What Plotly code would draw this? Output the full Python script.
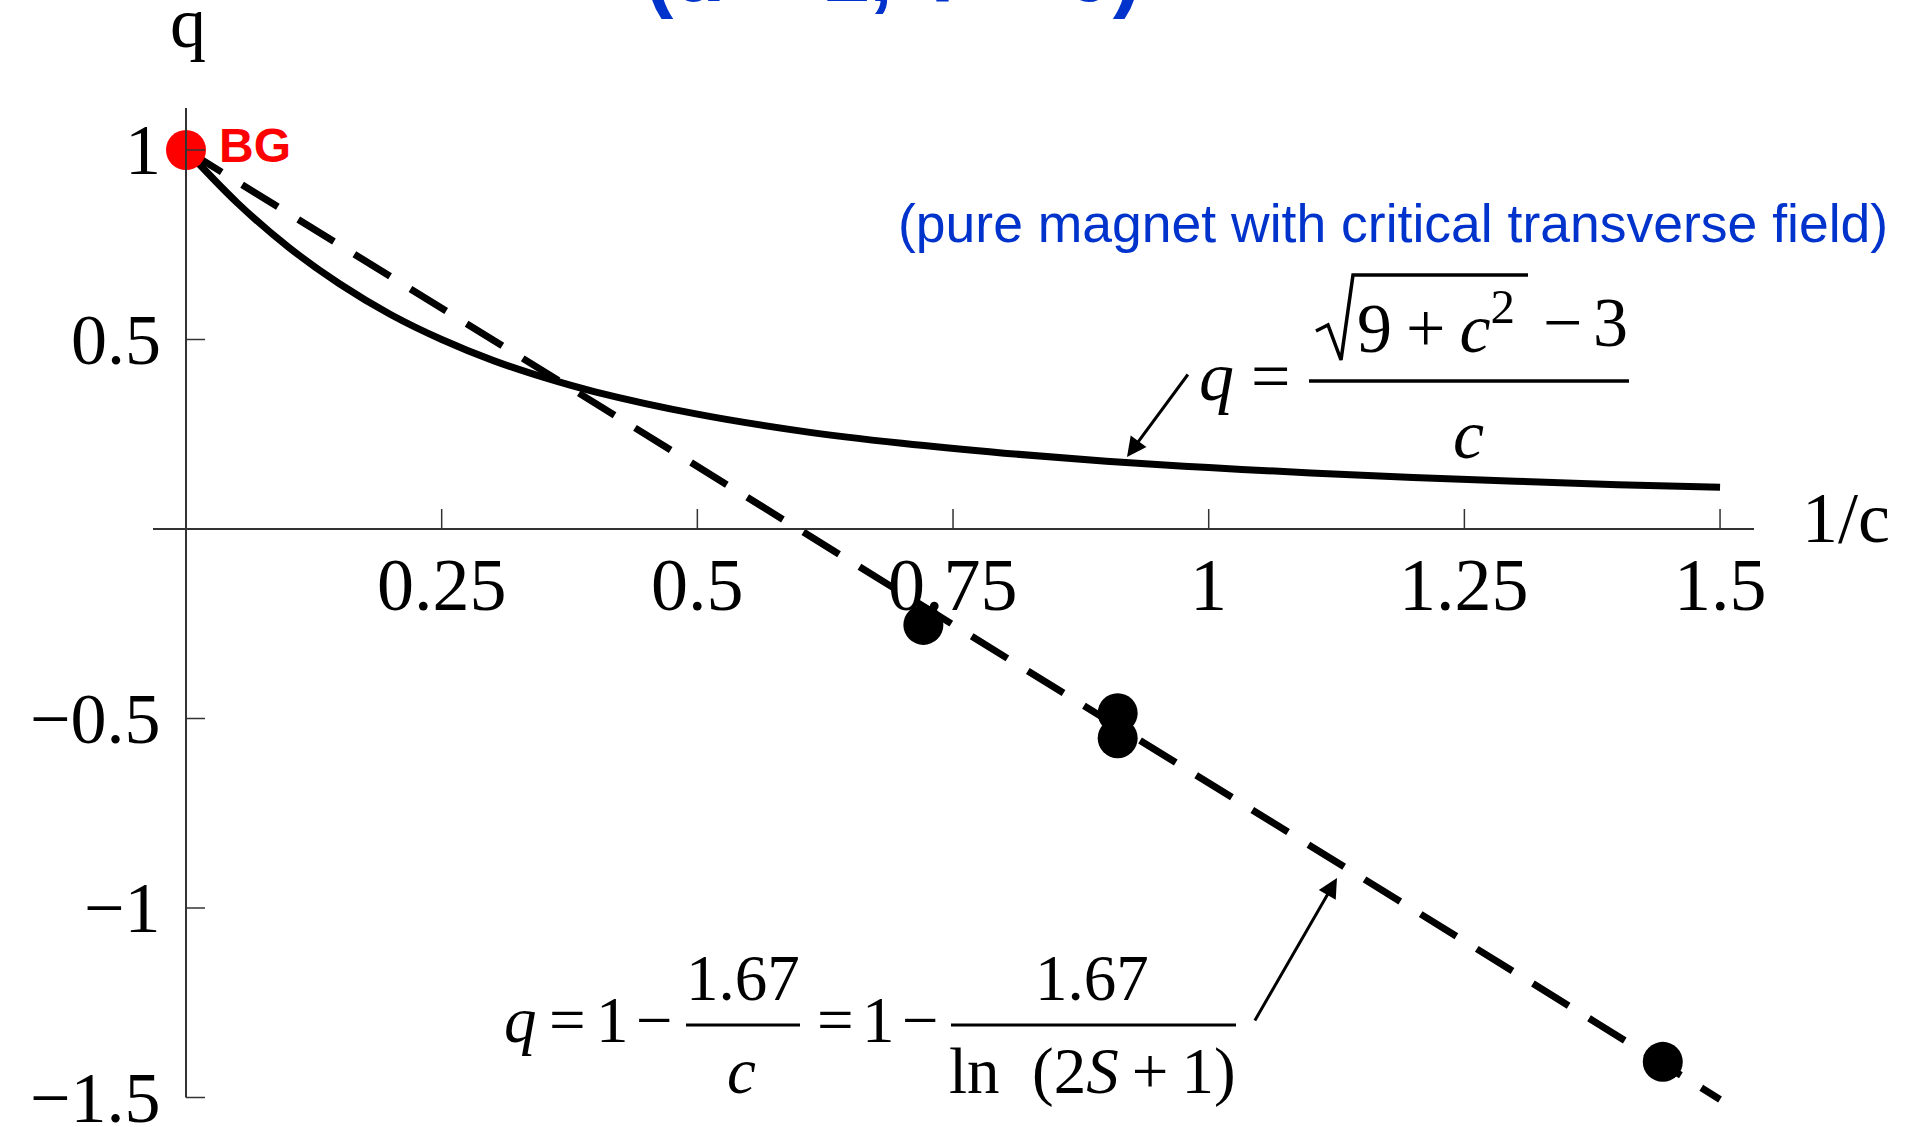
import plotly.graph_objects as go

W, H = 1905, 1127

# ---- data ----
# solid curve  q = (sqrt(9 + c^2) - 3) / c   plotted against 1/c
curve_x = [0, 0.05, 0.1, 0.15, 0.2, 0.25, 0.3, 0.35, 0.4, 0.5, 0.6, 0.7,
           0.8, 0.9, 1.0, 1.1, 1.2, 1.3, 1.4, 1.5]
curve_q = [1.0, 0.861, 0.744, 0.647, 0.566, 0.5, 0.445, 0.4, 0.362, 0.303,
           0.259, 0.226, 0.2, 0.179, 0.162, 0.148, 0.136, 0.126, 0.117, 0.11]

# dashed line  q = 1 - 1.67/c
dash_x = [0, 1.5]
dash_q = [1.0, -1.505]

# black data points
dots_x = [0.721, 0.911, 0.911, 1.444]
dots_q = [-0.253, -0.486, -0.552, -1.406]

# BG point
bg_x = [0]
bg_q = [1]

x_ticks = [0.25, 0.5, 0.75, 1, 1.25, 1.5]
x_tick_text = ["0.25", "0.5", "0.75", "1", "1.25", "1.5"]
y_ticks = [1, 0.5, -0.5, -1, -1.5]
y_tick_text = ["1", "0.5", "\u22120.5", "\u22121", "\u22121.5"]

# ---- pixel mapping of the axes ----
X0, XS = 186, 1022.7   # pixel of x=0, pixels per unit
Y0, YS = 529, 379      # pixel of q=0, pixels per unit

SERIF = "Liberation Serif"
SANS = "Liberation Sans"

annotations = []
shapes = []


def P(xp, yp):
    # pixel -> paper coords
    return xp / W, 1 - yp / H


def label(xp, yp, s, size, family=SERIF, color="black", anchor="center"):
    a, b = P(xp, yp)
    annotations.append(dict(x=a, y=b, xref="paper", yref="paper", text=s, showarrow=False,
                            xanchor=anchor, yanchor="middle",
                            font=dict(family=family, size=size, color=color)))


def hline(x0, x1, yp, w=3):
    a0, b0 = P(x0, yp)
    a1, b1 = P(x1, yp)
    shapes.append(dict(type="line", xref="paper", yref="paper", x0=a0, x1=a1, y0=b0, y1=b1,
                       line=dict(color="black", width=w)))


fig = go.Figure()
fig.add_trace(go.Scatter(x=curve_x, y=curve_q, mode="lines", line_shape="spline",
                         line=dict(color="black", width=7), hoverinfo="skip"))
fig.add_trace(go.Scatter(x=dash_x, y=dash_q, mode="lines",
                         line=dict(color="black", width=7, dash="42px,24px"), hoverinfo="skip"))
fig.add_trace(go.Scatter(x=dots_x, y=dots_q, mode="markers",
                         marker=dict(color="black", size=40)))
fig.add_trace(go.Scatter(x=bg_x, y=bg_q, mode="markers",
                         marker=dict(color="#ff0000", size=40)))

# axis lines
shapes.append(dict(type="line", xref="x", yref="y", x0=(153 - X0) / XS, x1=(1754 - X0) / XS,
                   y0=0, y1=0, line=dict(color="#333333", width=2)))
shapes.append(dict(type="line", xref="x", yref="y", x0=0, x1=0,
                   y0=(Y0 - 108) / YS, y1=-1.5, line=dict(color="#333333", width=2)))
# ticks
for t in x_ticks:
    shapes.append(dict(type="line", xref="x", yref="y", x0=t, x1=t, y0=0, y1=20 / YS,
                       line=dict(color="#333333", width=1.5)))
for t in y_ticks:
    shapes.append(dict(type="line", xref="x", yref="y", x0=0, x1=19 / XS, y0=t, y1=t,
                       line=dict(color="#333333", width=1.5)))

for t, s in zip(x_ticks, x_tick_text):
    annotations.append(dict(x=t, y=(Y0 - 585) / YS, xref="x", yref="y", text=s, showarrow=False,
                            xanchor="center", yanchor="middle",
                            font=dict(family=SERIF, size=74, color="black")))
for t, s in zip(y_ticks, y_tick_text):
    annotations.append(dict(x=(163 - X0) / XS, y=t, xref="x", yref="y", text=s, showarrow=False,
                            xanchor="right", yanchor="middle",
                            font=dict(family=SERIF, size=72, color="black")))

# axis labels
label(188, 23, "q", 72)
label(1846, 518, "1/c", 72)

# title (cut off at the top of the picture)
label(643, -28, "<b>(d = 1, T = 0)</b>", 85, family=SANS, color="#0033cc", anchor="left")

# BG label
label(217, 146, "<b>BG</b>", 48, family=SANS, color="#ff0000", anchor="left")

# blue note
label(1890, 224, "(pure magnet with critical transverse field)", 53.5, family=SANS,
      color="#0033cc", anchor="right")

# formula 1:  q = (sqrt(9 + c^2) - 3) / c
label(1216, 376, "<i>q</i>", 70)
label(1270, 376, "=", 70)
label(1436, 323, "9\u2009+\u2009<i>c</i><sup>2</sup>", 70)
label(1562, 323, "\u2212", 70)
label(1610, 323, "3", 70)
label(1468, 434, "<i>c</i>", 70)
hline(1309, 1629, 381, 3.5)
# radical sign with its bar
pts = [(1316, 331), (1328, 325), (1341, 360), (1353, 275), (1528, 275)]
path = "M " + " L ".join(f"{P(x, y)[0]:.5f},{P(x, y)[1]:.5f}" for x, y in pts)
shapes.append(dict(type="path", xref="paper", yref="paper", path=path,
                   line=dict(color="black", width=3.5)))

# formula 2:  q = 1 - 1.67/c = 1 - 1.67/ln(2S+1)
label(520, 1020, "<i>q</i>", 65)
label(567, 1020, "=", 65)
label(612, 1020, "1", 65)
label(654, 1020, "\u2212", 65)
label(743, 978, "1.67", 65)
label(741, 1071, "<i>c</i>", 65)
hline(686, 800, 1025)
label(835, 1020, "=", 65)
label(878, 1020, "1", 65)
label(920, 1020, "\u2212", 65)
label(1092, 978, "1.67", 65)
label(1092, 1071, "ln\u2002(2<i>S</i>\u2009+\u20091)", 65)
hline(951, 1236, 1025)

# arrows pointing to the curves
for hx, hy, tx, ty in [(1127, 457, 1189, 373), (1337, 878, 1254, 1022)]:
    annotations.append(dict(x=(hx - X0) / XS, y=(Y0 - hy) / YS, ax=(tx - X0) / XS, ay=(Y0 - ty) / YS,
                            xref="x", yref="y", axref="x", ayref="y", text="", showarrow=True,
                            arrowhead=2, arrowsize=1.3, arrowwidth=3, arrowcolor="black", standoff=0))

fig.update_layout(
    width=W, height=H,
    margin=dict(l=0, r=0, t=0, b=0),
    paper_bgcolor="white", plot_bgcolor="white",
    showlegend=False,
    xaxis=dict(range=[-X0 / XS, (W - X0) / XS], visible=False, fixedrange=True),
    yaxis=dict(range=[-(H - Y0) / YS, Y0 / YS], visible=False, fixedrange=True),
    shapes=shapes,
    annotations=annotations,
)

fig.write_html("out.html", config={"displayModeBar": False},
               post_script="document.body.style.margin='0';")
